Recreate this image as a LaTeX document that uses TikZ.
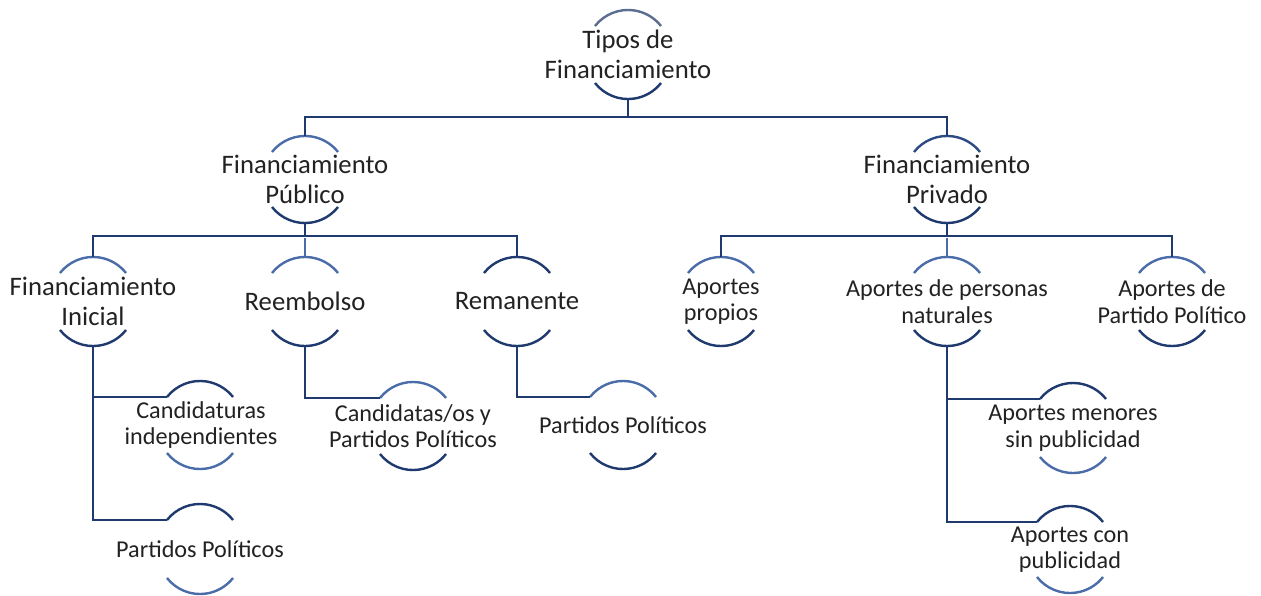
\documentclass[tikz,border=0pt]{standalone}
\usepackage{fontspec}
\setmainfont{Carlito}
\definecolor{navy}{HTML}{1F3A6E}
\definecolor{lightb}{HTML}{4A6DAA}
\definecolor{grayb}{HTML}{5B6E90}
\definecolor{midb}{HTML}{2D4C86}
\definecolor{txtc}{HTML}{222222}
\tikzset{
  lbl/.style={text=txtc, align=center, inner sep=0pt, font=\fontsize{26.7}{29.5}\selectfont},
  lbls/.style={lbl, font=\fontsize{24.2}{26.6}\selectfont},
  conn/.style={draw=navy, line width=2.7pt},
  connl/.style={draw=lightb, line width=2.7pt},
  arcline/.style={line width=2.4pt},
}
\newcommand{\caparcs}[6]{%
  \coordinate (#1-l) at (#2-33,#3);
  \coordinate (#1-t) at (#2,#3-16);
  \coordinate (#1-b) at (#2,#4+16);
  \draw[arcline,draw=#5] (#1-l) arc[start angle=218.2,end angle=321.8,radius=42];
  \draw[arcline,draw=#6] (#2-33,#4) arc[start angle=141.8,end angle=38.2,radius=42];
}
\begin{document}
\begin{tikzpicture}[x=1pt,y=-1pt]
\fill[white] (0,0) rectangle (1261,595);
\useasboundingbox (0,0) rectangle (1261,595);
% nodes
\caparcs{root}{628}{26}{83}{grayb}{navy}
\node[lbl] (root) at (628,54.5) {Tipos de\\Financiamiento};
\caparcs{pub}{305}{152}{207}{lightb}{navy}
\node[lbl] (pub) at (305,179.5) {Financiamiento\\Público};
\caparcs{priv}{947}{152}{207}{midb}{navy}
\node[lbl] (priv) at (947,179.5) {Financiamiento\\Privado};
\caparcs{ini}{93}{273}{330}{lightb}{navy}
\node[lbl] (ini) at (93,301.5) {Financiamiento\\Inicial};
\caparcs{ree}{305}{273}{330}{lightb}{navy}
\node[lbl] (ree) at (305,301.5) {Reembolso};
\caparcs{rem}{517}{273}{330}{navy}{navy}
\node[lbl] (rem) at (517,301.5) {Remanente};
\caparcs{apr}{721}{273}{330}{lightb}{navy}
\node[lbls] (apr) at (721,301.5) {Aportes\\propios};
\caparcs{apn}{947}{273}{330}{lightb}{navy}
\node[lbls] (apn) at (947,301.5) {Aportes de personas\\naturales};
\caparcs{app}{1172}{273}{330}{lightb}{navy}
\node[lbls] (app) at (1172,301.5) {Aportes de\\Partido Político};
\caparcs{cand}{200}{397}{453}{navy}{lightb}
\node[lbls] (cand) at (201,425) {Candidaturas\\independientes};
\caparcs{pp1}{200}{520}{578}{navy}{lightb}
\node[lbls] (pp1) at (200,549) {Partidos Políticos};
\caparcs{cyp}{413}{398}{454}{lightb}{navy}
\node[lbls] (cyp) at (413,426) {Candidatas/os y\\Partidos Políticos};
\caparcs{pp2}{623}{397}{453}{lightb}{navy}
\node[lbls] (pp2) at (623,425) {Partidos Políticos};
\caparcs{amen}{1073}{399}{457}{navy}{lightb}
\node[lbls] (amen) at (1073,428) {Aportes menores\\sin publicidad};
\caparcs{acon}{1070}{522}{577}{navy}{lightb}
\node[lbls] (acon) at (1070,549.5) {Aportes con\\publicidad};
% connectors
\draw[conn] (root-b) -- ++(0,18) -| (pub-t);
\draw[conn] (root-b) -- ++(0,18) -| (priv-t);
\draw[conn] (pub-b) -- ++(0,13) -| (ini-t);
\draw[conn] (pub-b) -- ++(0,13) -| (rem-t);
\draw[connl] (ree-t) -- ++(0,-19);
\draw[conn] (priv-b) -- ++(0,13) -| (apr-t);
\draw[conn] (priv-b) -- ++(0,13) -| (app-t);
\draw[connl] (apn-t) -- ++(0,-19);
\draw[conn] (ini-b) |- (cand-l);
\draw[conn] (ini-b) |- (pp1-l);
\draw[conn] (ree-b) |- (cyp-l);
\draw[conn] (rem-b) |- (pp2-l);
\draw[conn] (apn-b) |- (amen-l);
\draw[conn] (apn-b) |- (acon-l);
\end{tikzpicture}
\end{document}
